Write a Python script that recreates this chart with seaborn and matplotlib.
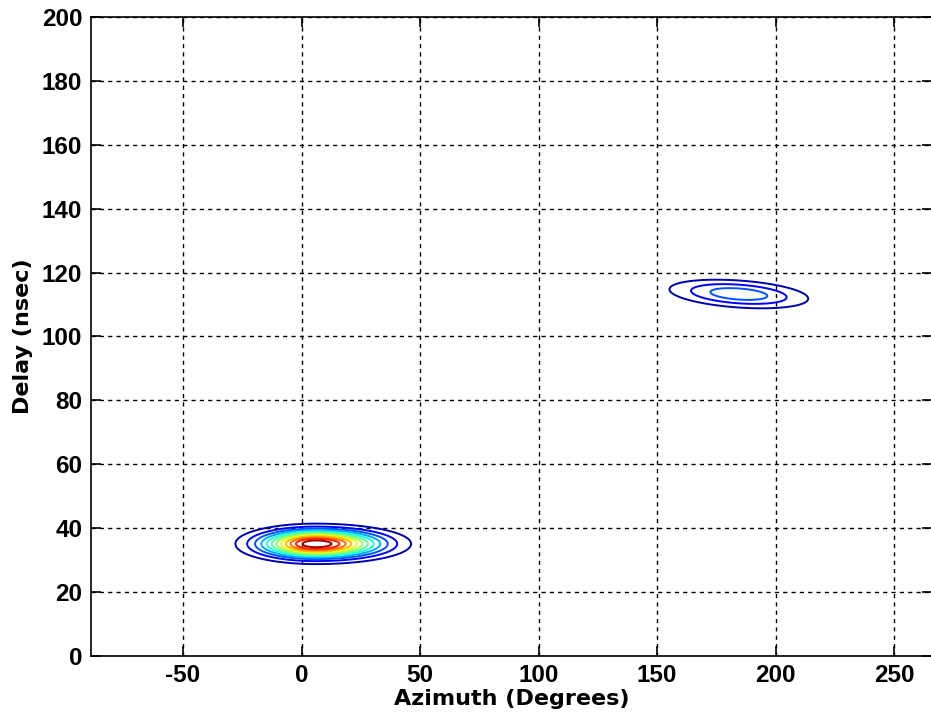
import numpy as np
import matplotlib
matplotlib.use("Agg")
import matplotlib.pyplot as plt
import seaborn as sns

# Peak parameters (azimuth in degrees, delay in ns)
peak_azimuth = [6.0, 184.5]
peak_delay = [35.1, 113.3]
peak_sigma_left = [15.0, 18.0]
peak_sigma_right = [17.8, 18.0]
peak_sigma_delay = [2.8, 2.6]
peak_tilt = [0.0, -0.05]
peak_amplitude = [1.03, 0.30]

contour_levels = [0.08, 0.16, 0.24, 0.32, 0.40, 0.48, 0.56, 0.64, 0.72, 0.80, 0.88, 0.96]

x_ticks = [-50, 0, 50, 100, 150, 200, 250]
y_ticks = [0, 20, 40, 60, 80, 100, 120, 140, 160, 180, 200]

sns.set_theme(style="ticks")
plt.rcParams['font.family'] = ['Liberation Sans', 'DejaVu Sans']
plt.rcParams['axes.unicode_minus'] = False
plt.rcParams['text.color'] = 'black'
plt.rcParams['axes.labelcolor'] = 'black'

fig = plt.figure(figsize=(9.31, 7.17), dpi=100)
ax = fig.add_axes([90.6 / 931, 61 / 717, 841.4 / 931, 639 / 717])

az = np.arange(-89, 266.01, 0.5)
de = np.arange(0, 200.01, 0.25)
A, D = np.meshgrid(az, de)
Z = np.zeros_like(A)
for cx, cy, sl, sr, sy, t, amp in zip(peak_azimuth, peak_delay, peak_sigma_left,
                                      peak_sigma_right, peak_sigma_delay, peak_tilt,
                                      peak_amplitude):
    sx = np.where(A < cx, sl, sr)
    yc = cy + t * (A - cx)
    Z += amp * np.exp(-0.5 * ((A - cx) / sx) ** 2 - 0.5 * ((D - yc) / sy) ** 2)

ax.contour(A, D, Z, levels=contour_levels, cmap="jet", vmin=0.04, vmax=1.0,
           linewidths=1.4)

ax.set_xlim(-89, 266)
ax.set_ylim(0, 200)
ax.set_xticks(x_ticks)
ax.set_yticks(y_ticks)
ax.set_facecolor("white")
ax.grid(True, color="black", linestyle=(0, (3, 3)), linewidth=1.0)
for s in ax.spines.values():
    s.set_color("black")
    s.set_linewidth(1.2)
ax.tick_params(direction="in", length=7, width=1.2, top=True, right=True,
               labelsize=17.5, colors="black", pad=6)
for lab in ax.get_xticklabels() + ax.get_yticklabels():
    lab.set_fontweight("bold")

ax.set_xlabel("Azimuth (Degrees)", fontsize=16, fontweight="bold", labelpad=1,
              family=["DejaVu Sans"], color="black")
ax.set_ylabel("Delay (nsec)", fontsize=16, fontweight="bold", labelpad=6,
              family=["DejaVu Sans"], color="black")

fig.savefig("out.png", dpi=100, facecolor="white")
